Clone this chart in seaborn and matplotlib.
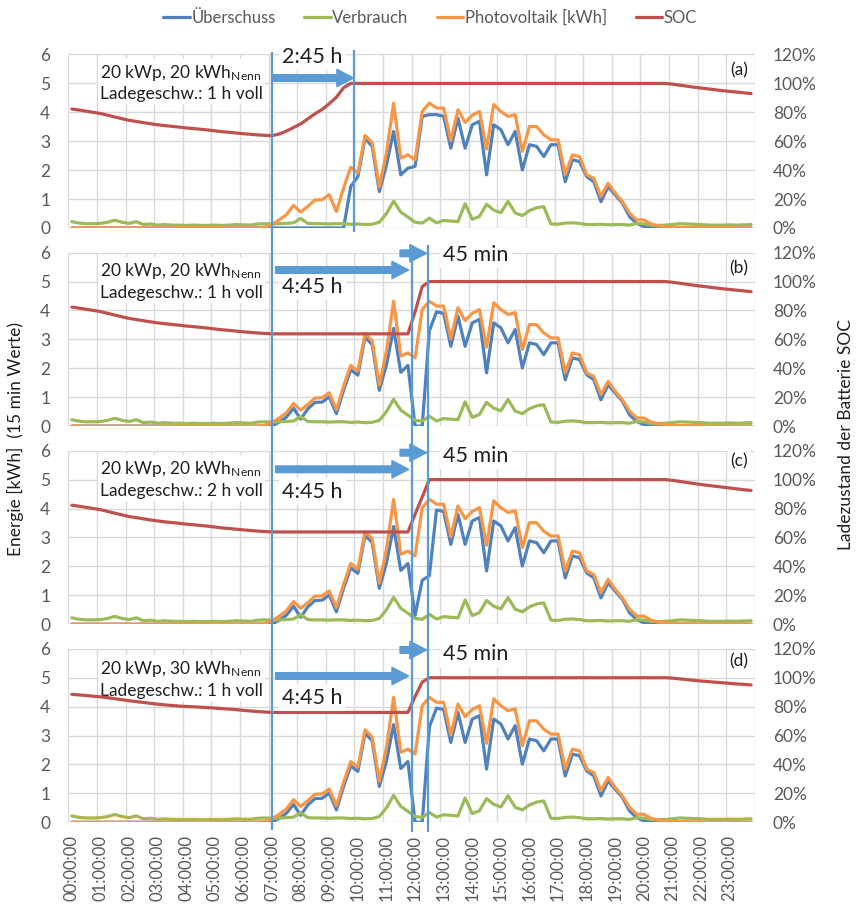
import numpy as np
import pandas as pd
import matplotlib
matplotlib.use("Agg")
import matplotlib.pyplot as plt
import seaborn as sns

# ---------------- data (15-min values, 96 steps) ----------------
hour_labels = ["00:00:00", "01:00:00", "02:00:00", "03:00:00", "04:00:00", "05:00:00",
               "06:00:00", "07:00:00", "08:00:00", "09:00:00", "10:00:00", "11:00:00",
               "12:00:00", "13:00:00", "14:00:00", "15:00:00", "16:00:00", "17:00:00",
               "18:00:00", "19:00:00", "20:00:00", "21:00:00", "22:00:00", "23:00:00"]

photovoltaik = [
    0, 0, 0, 0, 0, 0, 0, 0, 0, 0, 0, 0, 0, 0, 0, 0, 0, 0, 0, 0, 0, 0, 0, 0, 0, 0, 0, 0.03,
    0.12, 0.28, 0.46, 0.78, 0.55, 0.75, 0.97, 0.98, 1.15, 0.57, 1.38, 2.10,
    1.90, 3.20, 2.95, 1.42, 2.60, 4.32, 2.42, 2.53, 2.36, 4.03,
    4.32, 4.15, 4.15, 3.02, 4.09, 3.65, 3.90, 4.03, 2.73, 4.27,
    4.03, 3.86, 3.92, 2.65, 3.51, 3.51, 3.22, 3.05, 3.05, 1.84,
    2.53, 2.47, 1.84, 1.72, 1.09, 1.55, 1.20, 0.91, 0.51, 0.28,
    0.28, 0.14, 0.07, 0.05, 0.03, 0.02, 0.02, 0.01, 0.01, 0,
    0, 0, 0, 0, 0, 0]

verbrauch = [
    0.22, 0.17, 0.15, 0.15, 0.16, 0.20, 0.27, 0.20, 0.16, 0.22,
    0.12, 0.14, 0.10, 0.12, 0.10, 0.10, 0.09, 0.10, 0.09, 0.09,
    0.10, 0.09, 0.10, 0.12, 0.11, 0.10, 0.14, 0.15, 0.14, 0.15,
    0.16, 0.18, 0.33, 0.16, 0.15, 0.15, 0.14, 0.15, 0.15, 0.13,
    0.14, 0.12, 0.13, 0.20, 0.50, 0.93, 0.55, 0.38, 0.20, 0.17,
    0.34, 0.18, 0.26, 0.24, 0.22, 0.84, 0.30, 0.40, 0.82, 0.62,
    0.53, 0.92, 0.52, 0.43, 0.60, 0.70, 0.74, 0.14, 0.13, 0.17,
    0.18, 0.16, 0.12, 0.12, 0.13, 0.11, 0.12, 0.12, 0.10, 0.16,
    0.14, 0.10, 0.09, 0.10, 0.12, 0.15, 0.14, 0.13, 0.12, 0.10,
    0.10, 0.10, 0.11, 0.10, 0.11, 0.12]

ueberschuss_a = [
    0, 0, 0, 0, 0, 0, 0, 0, 0, 0, 0, 0, 0, 0, 0, 0, 0, 0, 0, 0,
    0, 0, 0, 0, 0, 0, 0, 0, 0, 0, 0, 0, 0, 0, 0, 0, 0, 0, 0, 1.43,
    1.78, 3.10, 2.82, 1.26, 2.18, 3.34, 1.84, 2.07, 2.13, 3.86,
    3.92, 3.92, 3.86, 2.76, 3.80, 2.76, 3.57, 3.69, 1.84, 3.57,
    3.40, 2.88, 3.34, 2.01, 2.88, 2.82, 2.47, 2.88, 2.88, 1.60,
    2.36, 2.30, 1.78, 1.60, 0.91, 1.43, 1.14, 0.86, 0.39, 0.16,
    0.05, 0, 0, 0, 0, 0, 0, 0, 0, 0,
    0, 0, 0, 0, 0, 0]

ueberschuss_b = [
    0, 0, 0, 0, 0, 0, 0, 0, 0, 0, 0, 0, 0, 0, 0, 0, 0, 0, 0, 0,
    0, 0, 0, 0, 0, 0, 0, 0, 0.00, 0.14, 0.31, 0.62, 0.24, 0.60, 0.82, 0.83, 1.01, 0.43, 1.24, 1.95,
    1.76, 3.08, 2.82, 1.24, 2.12, 3.38, 1.86, 2.10, 0, 0,
    3.30, 3.95, 3.90, 2.76, 3.80, 2.76, 3.57, 3.69, 1.84, 3.57,
    3.40, 2.88, 3.34, 2.01, 2.88, 2.82, 2.47, 2.88, 2.88, 1.60,
    2.36, 2.30, 1.78, 1.60, 0.91, 1.43, 1.14, 0.86, 0.39, 0.16,
    0.05, 0, 0, 0, 0, 0, 0, 0, 0, 0,
    0, 0, 0, 0, 0, 0]

ueberschuss_c = [
    0, 0, 0, 0, 0, 0, 0, 0, 0, 0, 0, 0, 0, 0, 0, 0, 0, 0, 0, 0,
    0, 0, 0, 0, 0, 0, 0, 0, 0.00, 0.14, 0.31, 0.62, 0.24, 0.60, 0.82, 0.83, 1.01, 0.43, 1.24, 1.95,
    1.76, 3.08, 2.82, 1.24, 2.12, 3.38, 1.86, 2.10, 0.30, 1.52,
    1.68, 3.95, 3.90, 2.76, 3.80, 2.76, 3.57, 3.69, 1.84, 3.57,
    3.40, 2.88, 3.34, 2.01, 2.88, 2.82, 2.47, 2.88, 2.88, 1.60,
    2.36, 2.30, 1.78, 1.60, 0.91, 1.43, 1.14, 0.86, 0.39, 0.16,
    0.05, 0, 0, 0, 0, 0, 0, 0, 0, 0,
    0, 0, 0, 0, 0, 0]

ueberschuss_d = [
    0, 0, 0, 0, 0, 0, 0, 0, 0, 0, 0, 0, 0, 0, 0, 0, 0, 0, 0, 0,
    0, 0, 0, 0, 0, 0, 0, 0, 0.00, 0.14, 0.31, 0.62, 0.24, 0.60, 0.82, 0.83, 1.01, 0.43, 1.24, 1.95,
    1.76, 3.08, 2.82, 1.24, 2.12, 3.38, 1.86, 2.10, 0, 0,
    3.30, 3.95, 3.90, 2.76, 3.80, 2.76, 3.57, 3.69, 1.84, 3.57,
    3.40, 2.88, 3.34, 2.01, 2.88, 2.82, 2.47, 2.88, 2.88, 1.60,
    2.36, 2.30, 1.78, 1.60, 0.91, 1.43, 1.14, 0.86, 0.39, 0.16,
    0.05, 0, 0, 0, 0, 0, 0, 0, 0, 0,
    0, 0, 0, 0, 0, 0]

soc_a = [
    82.3, 81.6, 80.8, 80.0, 79.2, 78.0, 76.8, 75.6, 74.5, 73.7,
    72.9, 72.1, 71.4, 70.8, 70.3, 69.8, 69.2, 68.8, 68.3, 67.8,
    67.2, 66.6, 66.2, 65.7, 65.2, 64.8, 64.4, 64.1, 63.8, 65.0,
    67.0, 69.5, 72.0, 75.5, 79.0, 82.0, 86.0, 90.5, 97.0, 100,
    100, 100, 100, 100, 100, 100, 100, 100, 100, 100,
    100, 100, 100, 100, 100, 100, 100, 100, 100, 100,
    100, 100, 100, 100, 100, 100, 100, 100, 100, 100,
    100, 100, 100, 100, 100, 100, 100, 100, 100, 100,
    100, 100, 100, 100, 99.5, 98.8, 98.1, 97.4, 96.8, 96.2,
    95.6, 95.0, 94.5, 94.0, 93.5, 93.0]

soc_b = [
    82.3, 81.6, 80.8, 80.0, 79.2, 78.0, 76.8, 75.6, 74.5, 73.7,
    72.9, 72.1, 71.4, 70.8, 70.3, 69.8, 69.2, 68.8, 68.3, 67.8,
    67.2, 66.6, 66.2, 65.7, 65.2, 64.8, 64.4, 64.1, 63.8, 63.8,
    63.8, 63.8, 63.8, 63.8, 63.8, 63.8, 63.8, 63.8, 63.8, 63.8,
    63.8, 63.8, 63.8, 63.8, 63.8, 63.8, 63.8, 63.8, 79.0, 96.5,
    100, 100, 100, 100, 100, 100, 100, 100, 100, 100,
    100, 100, 100, 100, 100, 100, 100, 100, 100, 100,
    100, 100, 100, 100, 100, 100, 100, 100, 100, 100,
    100, 100, 100, 100, 99.5, 98.8, 98.1, 97.4, 96.8, 96.2,
    95.6, 95.0, 94.5, 94.0, 93.5, 93.0]

soc_c = [
    82.3, 81.6, 80.8, 80.0, 79.2, 78.0, 76.8, 75.6, 74.5, 73.7,
    72.9, 72.1, 71.4, 70.8, 70.3, 69.8, 69.2, 68.8, 68.3, 67.8,
    67.2, 66.6, 66.2, 65.7, 65.2, 64.8, 64.4, 64.1, 63.8, 63.8,
    63.8, 63.8, 63.8, 63.8, 63.8, 63.8, 63.8, 63.8, 63.8, 63.8,
    63.8, 63.8, 63.8, 63.8, 63.8, 63.8, 63.8, 63.8, 76.0, 88.0,
    100, 100, 100, 100, 100, 100, 100, 100, 100, 100,
    100, 100, 100, 100, 100, 100, 100, 100, 100, 100,
    100, 100, 100, 100, 100, 100, 100, 100, 100, 100,
    100, 100, 100, 100, 99.5, 98.8, 98.0, 97.3, 96.6, 96.0,
    95.4, 94.8, 94.2, 93.6, 93.0, 92.5]

soc_d = [
    88.5, 88.1, 87.7, 87.2, 86.8, 86.2, 85.5, 84.8, 84.1, 83.5,
    82.9, 82.3, 81.7, 81.2, 80.8, 80.4, 80.1, 79.9, 79.6, 79.3,
    79.0, 78.6, 78.3, 77.9, 77.4, 77.0, 76.6, 76.3, 76.0, 76.0,
    76.0, 76.0, 76.0, 76.0, 76.0, 76.0, 76.0, 76.0, 76.0, 76.0,
    76.0, 76.0, 76.0, 76.0, 76.0, 76.0, 76.0, 76.0, 87.0, 97.0,
    100, 100, 100, 100, 100, 100, 100, 100, 100, 100,
    100, 100, 100, 100, 100, 100, 100, 100, 100, 100,
    100, 100, 100, 100, 100, 100, 100, 100, 100, 100,
    100, 100, 100, 100, 99.7, 99.2, 98.7, 98.2, 97.7, 97.3,
    96.9, 96.5, 96.1, 95.7, 95.4, 95.0]

panel_letters = ["(a)", "(b)", "(c)", "(d)"]
panel_info = [("20 kWp, 20 kWh$_{\\mathrm{Nenn}}$", "Ladegeschw.: 1 h voll"),
              ("20 kWp, 20 kWh$_{\\mathrm{Nenn}}$", "Ladegeschw.: 1 h voll"),
              ("20 kWp, 20 kWh$_{\\mathrm{Nenn}}$", "Ladegeschw.: 2 h voll"),
              ("20 kWp, 30 kWh$_{\\mathrm{Nenn}}$", "Ladegeschw.: 1 h voll")]
ueberschuss = [ueberschuss_a, ueberschuss_b, ueberschuss_c, ueberschuss_d]
soc = [soc_a, soc_b, soc_c, soc_d]

# annotation time marks (15-min step index)
T_START = 28.0          # 07:00
T_FULL_A = 39.4         # + 2:45 h
T_CHARGE = 47.5         # + 4:45 h
T_FULL = 49.8           # + 45 min

# ---------------- style ----------------
sns.set_theme(style="white")
plt.rcParams['font.family'] = ['Lato', 'DejaVu Sans']
plt.rcParams['mathtext.fontset'] = 'custom'
plt.rcParams['mathtext.rm'] = 'Lato'
plt.rcParams['mathtext.it'] = 'Lato:italic'
plt.rcParams['mathtext.bf'] = 'Lato:bold'

C_BLUE = "#4F81BD"
C_GREEN = "#9BBB59"
C_ORANGE = "#F79646"
C_RED = "#C0504D"
C_MARK = "#5B9BD5"
C_GRID = "#D9D9D9"
C_TICK = "#595959"
C_TXT = "#1F1F1F"
LW = 2.3

W, H = 856, 909
fig = plt.figure(figsize=(W / 100, H / 100), dpi=100)
L, AW, PH = 68.3, 686.4, 173.5
tops = [54.5, 252.6, 450.7, 648.8]

# pixel overlay (created first, used as coordinate frame for texts)
tx = fig.add_axes([0, 0, 1, 1], facecolor="none", zorder=5)
tx.set_xlim(0, W)
tx.set_ylim(H, 0)
tx.axis("off")

info_y = [82.5, 281, 479, 679]
letter_y = [70, 268, 461, 661]

t = np.arange(len(photovoltaik))
handles = None
for k in range(4):
    ax = fig.add_axes([L / W, 1 - (tops[k] + PH) / H, AW / W, PH / H])
    df = pd.DataFrame({"t": t, "ue": ueberschuss[k], "vb": verbrauch,
                       "pv": photovoltaik, "soc": soc[k]})
    sns.lineplot(data=df, x="t", y="ue", ax=ax, color=C_BLUE, lw=LW, label="Überschuss", legend=False)
    sns.lineplot(data=df, x="t", y="vb", ax=ax, color=C_GREEN, lw=LW, label="Verbrauch", legend=False)
    sns.lineplot(data=df, x="t", y="pv", ax=ax, color=C_ORANGE, lw=LW, label="Photovoltaik [kWh]", legend=False)
    ax2 = ax.twinx()
    sns.lineplot(data=df, x="t", y="soc", ax=ax2, color=C_RED, lw=LW, label="SOC", legend=False,
                 zorder=3)

    ax.set_xlim(-0.5, 95.5)
    ax.set_ylim(0, 6)
    ax2.set_ylim(0, 120)
    ax.set_xlabel("")
    ax.set_ylabel("")
    ax2.set_ylabel("")
    ax.set_yticks(range(7))
    ax2.set_yticks(range(0, 121, 20))
    ax2.set_yticklabels([f"{v}%" for v in range(0, 121, 20)])
    ax.set_xticks(np.arange(0, 96, 4))
    ax.set_xticks(np.arange(-0.5, 96, 4), minor=True)
    if k == 3:
        ax.set_xticklabels(hour_labels, rotation=90)
    else:
        ax.set_xticklabels([])
    ax.grid(False)
    ax.grid(which="minor", axis="x", color=C_GRID, lw=1.0)
    ax.grid(which="major", axis="y", color=C_GRID, lw=1.0)
    ax.set_axisbelow(True)
    for a in (ax, ax2):
        for s in a.spines.values():
            s.set_visible(False)
    ax.tick_params(axis="y", length=0, pad=13, labelsize=12.5, labelcolor=C_TICK)
    ax2.tick_params(axis="y", length=0, pad=13, labelsize=12.5, labelcolor=C_TICK)
    ax.tick_params(axis="x", which="both", length=0, pad=9, labelsize=12, labelcolor=C_TICK)
    ax2.grid(False)

    # info box sits above the grid but below the SOC line
    ax2.text(100, info_y[k], panel_info[k][0] + "\n" + panel_info[k][1], ha="left", va="center",
             fontsize=12.5, color=C_TXT, linespacing=1.3, transform=tx.transData, zorder=1,
             clip_on=False, bbox=dict(boxstyle="square,pad=0.1", fc="white", ec="none"))

    if k == 0:
        h1, l1 = ax.get_legend_handles_labels()
        h2, l2 = ax2.get_legend_handles_labels()
        handles = (h1 + h2, l1 + l2)

# axis titles
fig.text(15 / W, 1 - 439 / H, "Energie [kWh]  (15 min Werte)", rotation=90,
         ha="center", va="center", fontsize=12.5, color=C_TXT)
fig.text(846 / W, 1 - 434 / H, "Ladezustand der Batterie SOC", rotation=90,
         ha="center", va="center", fontsize=12.5, color=C_TXT)

# legend
fig.legend(handles[0], handles[1], loc="center", bbox_to_anchor=(430 / W, 1 - 18 / H),
           ncol=4, frameon=False, fontsize=12, handlelength=1.6, handletextpad=0.1,
           columnspacing=1.7, labelcolor=C_TICK)

# overlay in (time index, pixel) coordinates for markers/arrows
ov = fig.add_axes([L / W, 0, AW / W, 1], facecolor="none", zorder=6)
ov.set_xlim(-0.5, 95.5)
ov.set_ylim(H, 0)
ov.axis("off")

mk = dict(color=C_MARK, lw=1.6, solid_capstyle="butt")
ov.plot([T_START, T_START], [52, 830], **mk)
ov.plot([T_FULL_A, T_FULL_A], [50, 232], **mk)
ov.plot([T_CHARGE, T_CHARGE], [245, 832], **mk)
ov.plot([T_FULL, T_FULL], [245, 832], **mk)

arrow = dict(arrowstyle="simple,head_length=1.2,head_width=1.25,tail_width=0.48",
             fc=C_MARK, ec=C_MARK, mutation_scale=10, shrinkA=0, shrinkB=0)

def harrow(x0, x1, y):
    ov.annotate("", xy=(x1, y), xytext=(x0, y), arrowprops=arrow)

box = dict(boxstyle="square,pad=0.15", fc="white", ec="none")

# panel (a)
harrow(T_START, T_FULL_A, 78)
tx.text(312.5, 57, "2:45 h", ha="center", va="center", fontsize=15.5, color=C_TXT, bbox=box)
# panels (b)-(d)
long_y = [270, 469.3, 676]
short_y = [253.3, 452.7, 650]
txt_long_y = [286.7, 491.7, 697.7]
txt_short_y = [255, 456, 654.3]
for j in range(3):
    harrow(T_START + 0.5, T_CHARGE - 0.4, long_y[j])
    harrow(T_CHARGE - 1.6, T_FULL - 0.2, short_y[j])
    tx.text(312.5, txt_long_y[j], "4:45 h", ha="center", va="center", fontsize=15.5,
            color=C_TXT, bbox=box)
    tx.text(476, txt_short_y[j], "45 min", ha="center", va="center", fontsize=15.5,
            color=C_TXT, bbox=box)

for k in range(4):
    tx.text(739, letter_y[k], panel_letters[k], ha="center", va="center", fontsize=12.5,
            color=C_TXT, bbox=box)

fig.savefig("out.png", dpi=100)
